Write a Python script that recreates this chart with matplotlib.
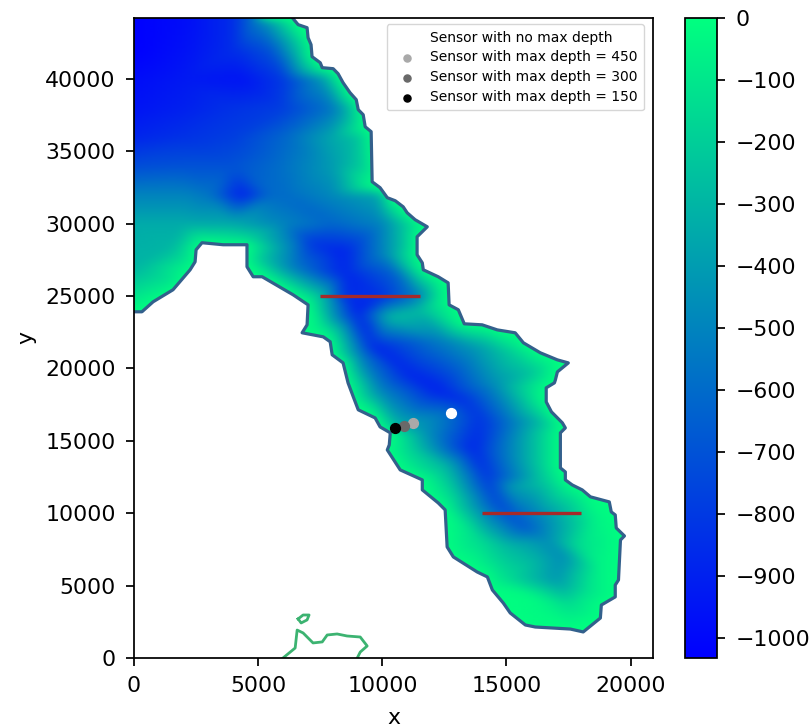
import matplotlib
matplotlib.use("Agg")
import matplotlib.pyplot as plt
import matplotlib.tri as mtri
import numpy as np
from matplotlib.patches import Polygon

# shoreline of the basin
coast_x = [6410, 6610, 6970, 7010, 7130, 7170, 7500, 7580, 8020, 8220, 8420, 8700, 8950, 9030, 9230, 9310,
           9550, 9590, 9910, 10200, 10520, 10840, 11000, 11320, 11810, 11400, 11400, 11610, 11650, 12250,
           12650, 12690, 13060, 13300, 14020, 14630, 15350, 15680, 16360, 17050, 17490, 17050, 16970, 16930,
           16600, 16600, 16810, 17250, 17370, 17170, 17170, 17370, 17370, 17650, 18050, 18380, 19140, 19220,
           19380, 19420, 19750, 19590, 19510, 19380, 19380, 18820, 18780, 18090, 17570, 16160, 15760, 15150,
           14870, 14430, 14230, 13820, 12860, 12610, 12530, 12250, 11610, 11610, 10720, 10200, 10280, 10320,
           9910, 9710, 9030, 8830, 8620, 8420, 7980, 7900, 7620, 6770, 6970, 7010, 6410, 5160, 4800, 4550,
           4550, 3590, 2740, 2500, 2460, 2260, 1570, 770, 320, 0]
coast_y = [44150, 43740, 43530, 42840, 42360, 41530, 41110, 40770, 40700, 40350, 39730, 39040, 38560, 37870,
           37520, 36690, 36350, 32890, 32480, 31790, 31580, 31160, 30750, 30270, 29780, 29090, 27850, 27290,
           26810, 26330, 25910, 24390, 24050, 23080, 23010, 22660, 22460, 21770, 21080, 20590, 20380, 19760,
           19210, 19000, 18660, 17690, 17000, 16240, 15890, 15550, 13130, 12850, 12300, 11950, 11610, 11130,
           10780, 10090, 9880, 8980, 8430, 8150, 5390, 5040, 4220, 3660, 2760, 1800, 2000, 2140, 2280, 3110,
           3800, 4700, 5600, 5940, 6980, 7670, 10230, 10710, 11610, 12300, 12990, 14370, 14720, 15550, 15960,
           16580, 17140, 18040, 19000, 20380, 20940, 21840, 22180, 22460, 23010, 24390, 25080, 26330, 26330,
           27020, 28540, 28540, 28680, 28190, 27360, 26810, 25430, 24600, 23910, 23910]
coast_depth = -10

island_x = [6610, 6810, 7050, 6970, 6730, 6610]
island_y = [2700, 2970, 2970, 2630, 2420, 2700]
shore_x = [6000, 6490, 6570, 6810, 7210, 7580, 7780, 8180, 8580, 9110, 9390, 9110, 8990]
shore_y = [0, 690, 1930, 1730, 1040, 1110, 1590, 1660, 1520, 1450, 830, 410, 0]

# depth soundings
depth_x = [0, 2000, 4000, 5000, 0, 2000, 4000, 5500, 6500, 0, 2000, 4300, 6000, 7500,
           0, 2000, 4000, 6000, 8000, 8800, 0, 2000, 4000, 6000, 8000, 9000,
           0, 2000, 4000, 6000, 8000, 9200, 0, 2000, 4300, 6000, 8000, 10000,
           0, 2000, 4000, 6000, 8000, 10000, 11000, 0, 1500, 3000, 4500, 6500, 8420, 7100, 10030, 11000,
           0, 1500, 5000, 6500, 8500, 10500, 11100, 7500, 8500, 10000, 11500, 12300,
           7500, 8980, 9640, 10320, 11530, 12330, 13950, 15270, 11000, 12210, 13420, 13950,
           15030, 16240, 14630, 15960, 9910, 9110, 9230, 8180, 10600, 11810, 12730, 13660,
           14230, 15150, 16480, 12610, 11240, 12860, 14630, 15680, 16640, 17290, 17970,
           18660, 13950, 15030, 16080, 17050, 15960, 16640, 17570, 18380, 18780, 14750, 3000, 5500]
depth_y = [44200, 44200, 44200, 44200, 42000, 42000, 42000, 42000, 42000, 40000, 40000, 40000, 40000, 40000,
           38000, 38000, 38000, 38000, 38000, 38000, 36000, 36000, 36000, 36000, 36000, 36000,
           34000, 34000, 34000, 34000, 34000, 34000, 32000, 32000, 32000, 32000, 32000, 32000,
           30000, 30000, 30000, 30000, 30000, 30000, 30000, 28500, 28500, 29000, 29000, 28500, 27980, 28700, 27980, 28500,
           27000, 26000, 27500, 27000, 26500, 26500, 27000, 25000, 25000, 25000, 25000, 25000,
           23000, 23840, 21490, 23560, 24050, 21970, 21490, 21080, 19690, 18520, 17620, 16450,
           16240, 16240, 19000, 19690, 18520, 18040, 21080, 22670, 15960, 15550, 16930, 14370,
           12510, 11820, 12300, 13200, 14370, 10920, 10920, 9050, 8150, 6980, 7670,
           9540, 8150, 7670, 6570, 5390, 4220, 3110, 3520, 4490, 6080, 5390, 32000, 32000]
depth_z = [-1030, -980, -850, -500, -1030, -960, -850, -700, -300, -980, -930, -950, -800, -450,
           -950, -900, -830, -780, -550, -250, -880, -830, -780, -620, -350, -250,
           -720, -700, -700, -580, -400, -200, -500, -500, -900, -600, -480, -350,
           -340, -340, -350, -500, -620, -500, -200, -320, -300, -100, -150, -550, -900, -800, -500, -200,
           -300, -100, -200, -550, -880, -650, -200, -250, -850, -820, -500, -100,
           -100, -900, -880, -280, -280, -520, -380, -200, -880, -900, -830, -830,
           -600, -330, -430, -250, -500, -150, -600, -250, -300, -450, -600, -880,
           -820, -420, -230, -300, -200, -150, -760, -680, -470, -470, -130,
           -50, -150, -280, -280, -420, -20, -30, -130, -100, -50, -100, -560, -600]

sensor_x = [12770, 11240, 10880, 10520]
sensor_y = [16930, 16240, 16030, 15900]
sensor_colors = ["white", "darkgrey", "dimgrey", "black"]
sensor_labels = ["Sensor with no max depth", "Sensor with max depth = 450",
                 "Sensor with max depth = 300", "Sensor with max depth = 150"]

transect_x = [[7500, 11500], [14000, 18000]]
transect_y = [[25000, 25000], [10000, 10000]]

cbar_ticks = [0, -100, -200, -300, -400, -500, -600, -700, -800, -900, -1000]


def _smooth(grid, n):
    kernel = np.hanning(n + 2)[1:-1]
    kernel = kernel / kernel.sum()
    pad = n // 2
    out = np.pad(grid, pad, mode="edge")
    out = np.apply_along_axis(lambda r: np.convolve(r, kernel, mode="same"), 0, out)
    out = np.apply_along_axis(lambda r: np.convolve(r, kernel, mode="same"), 1, out)
    return out[pad:-pad, pad:-pad]


plt.rcParams["font.size"] = 15.8
plt.rcParams["axes.linewidth"] = 1.26
plt.rcParams["xtick.major.size"] = 5.6
plt.rcParams["ytick.major.size"] = 5.6
plt.rcParams["xtick.major.width"] = 1.26
plt.rcParams["ytick.major.width"] = 1.26
plt.rcParams["xtick.major.pad"] = 7.6
plt.rcParams["ytick.major.pad"] = 7.6

fig = plt.figure(figsize=(8.11, 7.28), dpi=100)
ax = fig.add_axes([134 / 811, 1 - 658 / 728, (653 - 134) / 811, (658 - 18) / 728])
cax = fig.add_axes([685 / 811, 1 - 658 / 728, (717 - 685) / 811, (658 - 18) / 728])

xlim = (0, 20900)
ylim = (0, 44200)

xs = np.array(coast_x + depth_x, dtype=float)
ys = np.array(coast_y + depth_y, dtype=float)
zs = np.array([coast_depth] * len(coast_x) + depth_z, dtype=float)
tri = mtri.Triangulation(xs, ys)
gx, gy = np.meshgrid(np.linspace(*xlim, 210), np.linspace(*ylim, 443))
field = mtri.LinearTriInterpolator(tri, zs)(gx, gy).filled(coast_depth)
field = _smooth(field, 13)

im = ax.imshow(field, origin="lower", extent=(*xlim, *ylim), aspect="auto", cmap="winter",
               vmin=-1032, vmax=0, interpolation="bilinear")
basin = Polygon(list(zip(coast_x, coast_y)) + [(0, ylim[1]), (coast_x[0], ylim[1])],
                closed=True, transform=ax.transData, facecolor="none", edgecolor="none")
ax.add_patch(basin)
im.set_clip_path(basin)

ax.plot(coast_x, coast_y, color="#33608c", lw=2.3)
ax.plot(island_x, island_y, color="mediumseagreen", lw=2.0)
ax.plot(shore_x, shore_y, color="mediumseagreen", lw=2.0)

for tx, ty in zip(transect_x, transect_y):
    ax.plot(tx, ty, color="brown", lw=2.4, solid_capstyle="butt")

for sx, sy, c, lab in zip(sensor_x, sensor_y, sensor_colors, sensor_labels):
    ax.scatter(sx, sy, s=50, color=c, label=lab, zorder=5)

ax.set_xlim(xlim)
ax.set_ylim(ylim)
ax.set_xticks([0, 5000, 10000, 15000, 20000])
ax.set_yticks(range(0, 45000, 5000))
ax.set_xlabel("x", labelpad=8.5)
ax.set_ylabel("y", labelpad=6.3)
ax.legend(loc="upper right", fontsize=10, markerscale=0.72, borderpad=0.45, labelspacing=0.42,
          handletextpad=0.7, bbox_to_anchor=(0.983, 0.99), borderaxespad=0)

cb = fig.colorbar(im, cax=cax)
cb.set_ticks(cbar_ticks)

fig.savefig("out.png", dpi=100)
